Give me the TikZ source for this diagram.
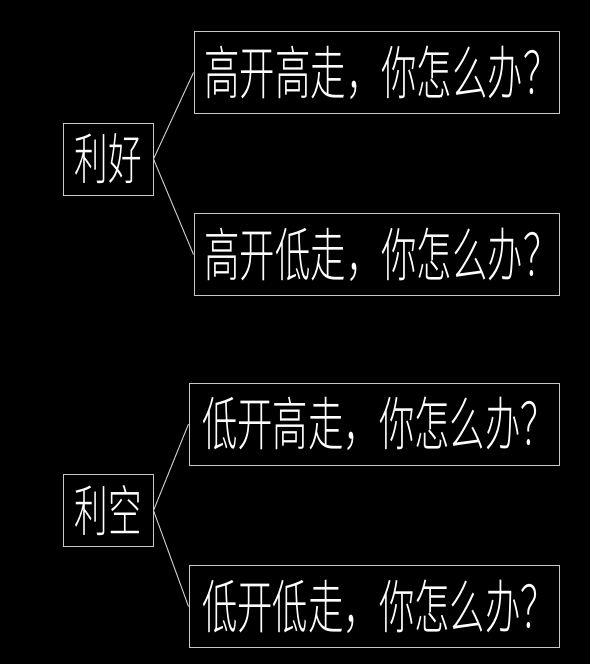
\documentclass[tikz,border=0pt]{standalone}
\usepackage{fontspec}
\newfontfamily\cjk[FakeStretch=0.61,UprightFont=* Light]{Noto Sans CJK SC}
\definecolor{linegray}{RGB}{200,200,200}
\newcommand{\casetext}[1]{\makebox[0pt]{\hspace*{10pt}#1}}
\tikzset{
	newsbox/.style={draw=linegray,line width=1pt,inner sep=0pt,text=white,
		minimum width=90pt,minimum height=72pt,font=\cjk\fontsize{55}{55}\selectfont},
	casebox/.style={draw=linegray,line width=1pt,inner sep=0pt,text=white,
		minimum height=82pt,font=\cjk\fontsize{58}{58}\selectfont},
	branch/.style={draw=linegray,line width=1pt}
}
\begin{document}
\begin{tikzpicture}[x=1pt,y=-1pt]
	\fill[black] (0,0) rectangle (590,664);
	% good news
	\node[newsbox] (good) at (108,159) {利好};
	\node[casebox,minimum width=365pt] (goodhigh) at (376.5,72.5) {\casetext{高开高走，你怎么办？}};
	\node[casebox,minimum width=365pt] (goodlow) at (376.5,254.5) {\casetext{高开低走，你怎么办？}};
	\draw[branch] (good.east) -- (goodhigh.west);
	\draw[branch] (good.east) -- (goodlow.west);
	% bad news
	\node[newsbox] (bad) at (108,510.5) {利空};
	\node[casebox,minimum width=370pt] (badhigh) at (374,424) {\casetext{低开高走，你怎么办？}};
	\node[casebox,minimum width=370pt] (badlow) at (374,606.5) {\casetext{低开低走，你怎么办？}};
	\draw[branch] (bad.east) -- (badhigh.west);
	\draw[branch] (bad.east) -- (badlow.west);
\end{tikzpicture}
\end{document}
